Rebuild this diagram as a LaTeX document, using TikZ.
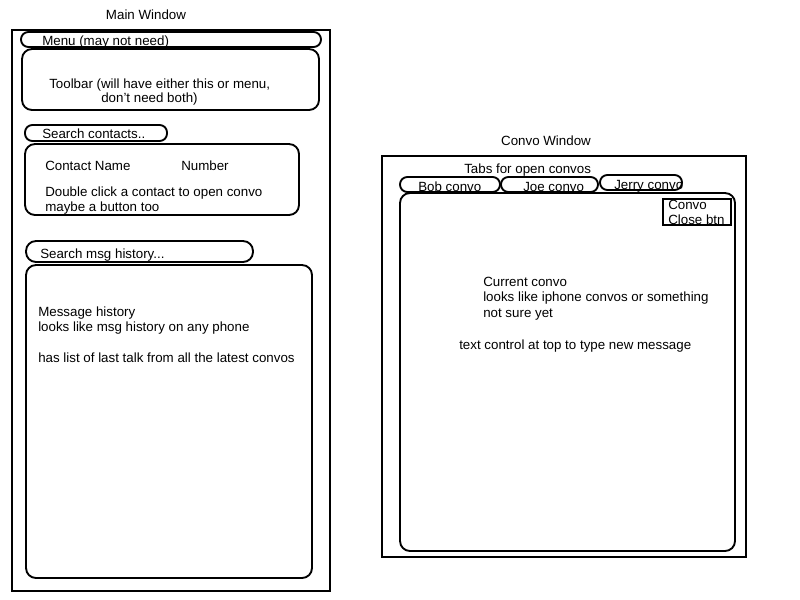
\documentclass[tikz,border=0pt]{standalone}
\usepackage{fontspec}
\setmainfont{Liberation Sans}
\begin{document}
\begin{tikzpicture}[x=0.75pt,y=-0.75pt,
  font=\fontsize{10}{11.5}\selectfont,
  win/.style={draw,line width=1.4pt},
  rbox/.style={draw,line width=1.4pt,rounded corners=7.5pt},
  capsule/.style={draw,line width=1.4pt,rounded corners=5.5pt},
  lbl/.style={anchor=base west,inner sep=0pt,yshift=-3.9pt},
  ttl/.style={anchor=base,inner sep=0pt,yshift=-3.9pt}]
\useasboundingbox (0,0) rectangle (800,600);
% Main window
\node[ttl] (mwt) at (146,14) {Main Window};
\draw[win] (12,30) rectangle (330,591);
\draw[capsule] (21,32) rectangle (321,47);
\node[lbl] (menu) at (42,40) {Menu (may not need)};
\draw[rbox] (22,49) rectangle (319,110);
\node[lbl] (tb1) at (49,83) {Toolbar (will have either this or menu,};
\node[lbl] (tb2) at (101,97) {don't need both)};
\draw[capsule] (25,125) rectangle (167,141);
\node[lbl] (sc) at (42,133) {Search contacts..};
\draw[rbox] (25,144) rectangle (299,215);
\node[lbl] (cn) at (45,165) {Contact Name};
\node[lbl] (num) at (181,165) {Number};
\node[lbl] (dc) at (45,191) {Double click a contact to open convo};
\node[lbl] (mb) at (45,206) {maybe a button too};
\draw[capsule,rounded corners=7.5pt] (26,241) rectangle (253,262);
\node[lbl] (smh) at (40,253) {Search msg history...};
\draw[rbox] (26,265) rectangle (312,578);
\node[lbl] (mh1) at (38,311) {Message history};
\node[lbl] (mh2) at (38,326) {looks like msg history on any phone};
\node[lbl] (mh3) at (38,357) {has list of last talk from all the latest convos};
% Convo window
\node[ttl] (cwt) at (546,140) {Convo Window};
\draw[win] (382,156) rectangle (746,557);
\node[lbl] (tabs) at (464,168) {Tabs for open convos};
\draw[capsule] (400,177) rectangle (500,192);
\node[lbl] (bob) at (418,186) {Bob convo};
\draw[capsule] (501,177) rectangle (598,192);
\node[lbl] (joe) at (523,186) {Joe convo};
\node[lbl] (jerry) at (614,184) {Jerry convo};
\draw[capsule] (600,175) rectangle (682,190);
\draw[rbox] (400,193) rectangle (735,551);
\draw[line width=1.4pt] (663,199) rectangle (731,225);
\node[lbl] (cb1) at (668,204) {Convo};
\node[lbl] (cb2) at (668,219) {Close btn};
\node[lbl] (cc1) at (483,281) {Current convo};
\node[lbl] (cc2) at (483,296) {looks like iphone convos or something};
\node[lbl] (cc3) at (483,312) {not sure yet};
\node[lbl] (tc) at (459,344) {text control at top to type new message};
\end{tikzpicture}
\end{document}
